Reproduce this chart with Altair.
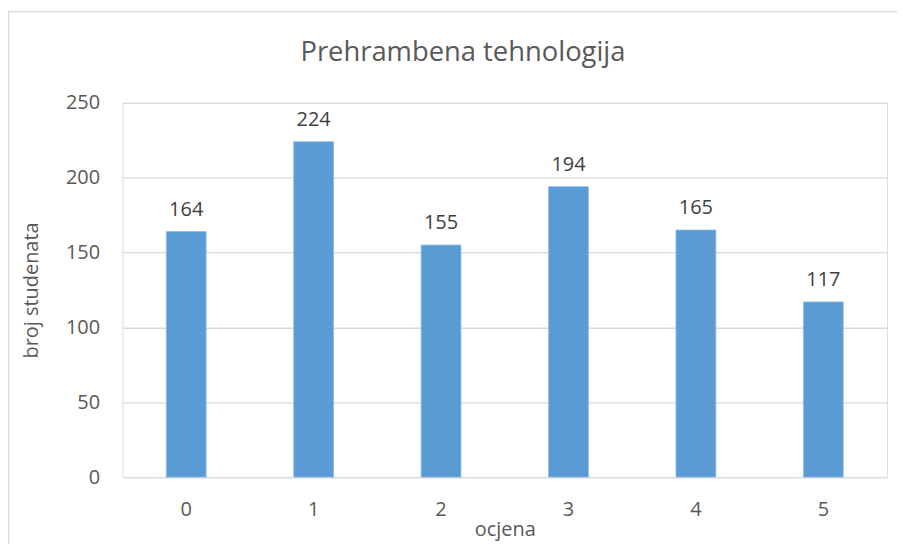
import altair as alt
import pandas as pd

grades = ["0", "1", "2", "3", "4", "5"]
counts = [164, 224, 155, 194, 165, 117]
y_ticks = [0, 50, 100, 150, 200, 250]
chart_title = "Prehrambena tehnologija"

df = pd.DataFrame({"ocjena": grades, "broj": counts})

FONT = "Open Sans"
GREY = "#595959"

base = alt.Chart(df)

x_enc = alt.X(
    "ocjena:N",
    sort=grades,
    scale=alt.Scale(paddingInner=0.6875, paddingOuter=0.34375),
    axis=alt.Axis(
        title="ocjena", labelAngle=0, ticks=False, domain=True,
        domainColor="#d9d9d9", domainWidth=1.3, labelPadding=23,
        labelFont=FONT, labelFontSize=20, labelColor=GREY,
        titleFont=FONT, titleFontSize=20, titleColor=GREY,
        titleFontWeight="normal", titleY=59, titleBaseline="alphabetic",
    ),
)

y_enc = alt.Y(
    "broj:Q",
    scale=alt.Scale(domain=[0, 250], nice=False),
    axis=alt.Axis(
        title="broj studenata", values=y_ticks, ticks=False, domain=False,
        grid=True, gridColor="#d9d9d9", gridWidth=1.3, labelPadding=23,
        labelFont=FONT, labelFontSize=20, labelColor=GREY,
        titleFont=FONT, titleFontSize=20, titleColor=GREY,
        titleFontWeight="normal", titleX=-85, titleY=188,
        titleBaseline="alphabetic",
    ),
)

one = pd.DataFrame({"a": [0]})

border = alt.Chart(one).mark_rect(
    fillOpacity=0, stroke="#d9d9d9", strokeWidth=1.3
).encode(
    x=alt.value(-114.5), x2=alt.value(900), y=alt.value(-91.5), y2=alt.value(600)
)

title_mark = alt.Chart(one).mark_text(
    font=FONT, fontSize=27.5, color=GREY, align="center", baseline="alphabetic"
).encode(x=alt.value(342), y=alt.value(-42), text=alt.value(chart_title))

bars = base.mark_bar(color="#5B9BD5", stroke="#8fb9e4", strokeWidth=0.8).encode(
    x=x_enc, y=y_enc
)

labels = base.mark_text(
    font=FONT, fontSize=20, color="#404040", baseline="alphabetic", dy=-16
).encode(x=alt.X("ocjena:N", sort=grades), y="broj:Q", text="broj:Q")

chart = (
    alt.layer(border, title_mark, bars, labels)
    .properties(
        width=768,
        height=376,
        autosize=alt.AutoSizeParams(type="none"),
        padding={"left": 115, "top": 94, "right": 10, "bottom": 66},
    )
    .configure_view(stroke=None)
    .configure(background="white")
)

chart.save("out.html", embed_options={"renderer": "svg", "actions": False})
